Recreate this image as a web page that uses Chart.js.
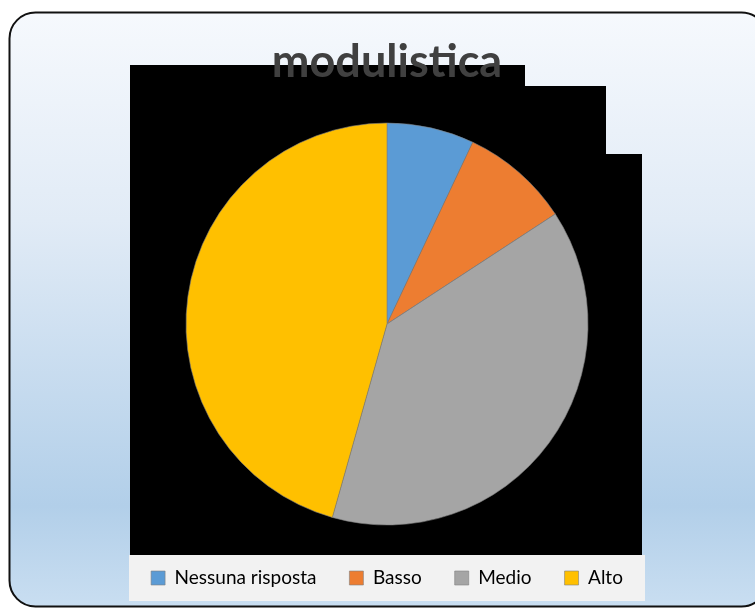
<!DOCTYPE html>
<html>
<head>
<meta charset="utf-8">
<script src="https://cdn.jsdelivr.net/npm/chart.js@4/dist/chart.umd.min.js"></script>
<style>
  html, body { margin: 0; padding: 0; background: #ffffff; }
  #wrap { width: 755px; height: 609px; }
</style>
</head>
<body>
<div id="wrap"><canvas id="chart" width="755" height="609"></canvas></div>
<script>
// Survey answers for "modulistica"
const labels = ['Nessuna risposta', 'Basso', 'Medio', 'Alto'];
const counts = [4, 5, 22, 26];
const colors = ['#5b9bd5', '#ed7d31', '#a5a5a5', '#ffc000'];
const chartTitle = 'modulistica';

// Rounded panel with the blue gradient, the black backdrop and the legend strip
const framePlugin = {
  id: 'frame',
  beforeDraw(chart) {
    const ctx = chart.ctx;
    ctx.save();
    const g = ctx.createLinearGradient(0, 12, 0, 607);
    g.addColorStop(0, '#f6f9fd');
    g.addColorStop(0.35, '#e1ebf6');
    g.addColorStop(0.83, '#b2cfe9');
    g.addColorStop(1, '#c9def1');
    ctx.beginPath();
    ctx.roundRect(9.5, 12.5, 758, 594, 26);
    ctx.fillStyle = g;
    ctx.fill();
    ctx.lineWidth = 2;
    ctx.strokeStyle = '#111111';
    ctx.stroke();

    // black stepped backdrop behind the pie
    ctx.beginPath();
    ctx.moveTo(130, 65);
    ctx.lineTo(525, 65);
    ctx.lineTo(525, 86);
    ctx.lineTo(606, 86);
    ctx.lineTo(606, 154);
    ctx.lineTo(642, 154);
    ctx.lineTo(642, 555);
    ctx.lineTo(130, 555);
    ctx.closePath();
    ctx.fillStyle = '#000000';
    ctx.fill();

    // legend strip
    ctx.fillStyle = '#f2f2f2';
    ctx.fillRect(129, 555, 516, 46);
    ctx.restore();
  }
};

new Chart(document.getElementById('chart'), {
  type: 'pie',
  data: {
    labels: labels,
    datasets: [{
      data: counts,
      backgroundColor: colors,
      borderColor: '#7f7f7f',
      borderWidth: 0.6,
      radius: 201
    }]
  },
  options: {
    responsive: false,
    animation: false,
    layout: { padding: { top: 10, bottom: 11.5, left: 19, right: 0 } },
    plugins: {
      title: {
        display: true,
        text: chartTitle,
        color: '#404040',
        font: { family: 'Lato', size: 45, weight: 'bold', lineHeight: 1.2 },
        padding: { top: 25, bottom: 23.5 }
      },
      legend: {
        position: 'bottom',
        labels: {
          color: '#000000',
          font: { family: 'Lato', size: 19 },
          boxWidth: 14,
          boxHeight: 14,
          padding: 33
        }
      },
      tooltip: { enabled: false }
    }
  },
  plugins: [framePlugin]
});
</script>
</body>
</html>
